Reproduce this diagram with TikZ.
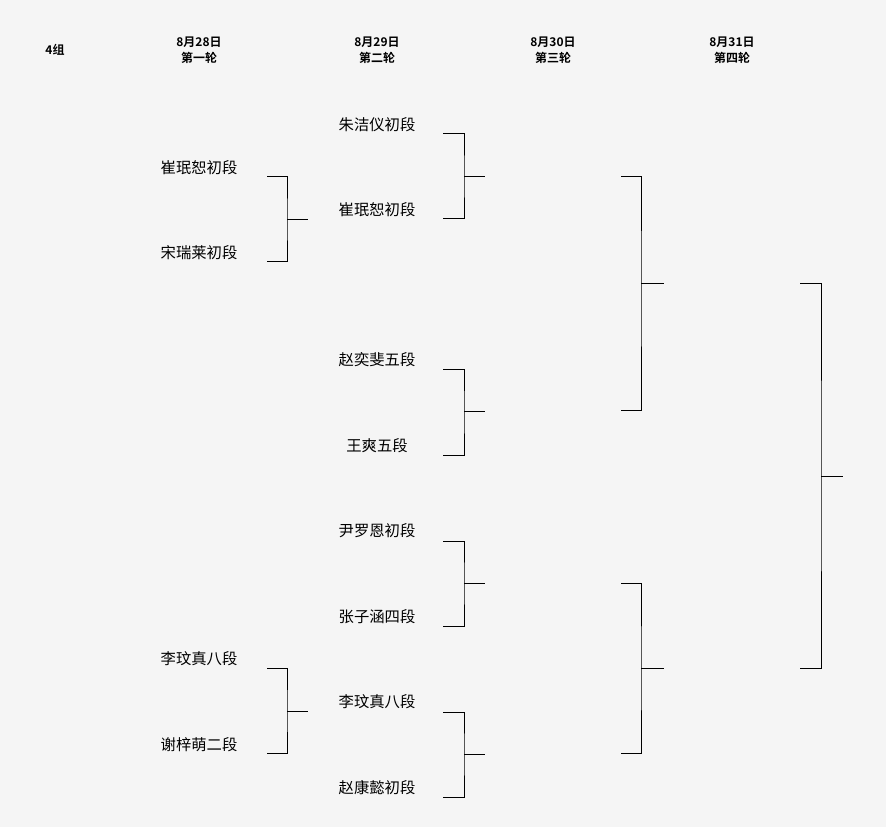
\documentclass[tikz,border=0pt]{standalone}
\usepackage{fontspec}
\newfontfamily\cjk{Noto Sans CJK SC}
\newfontfamily\cjkb{Noto Sans CJK SC Bold}
\begin{document}
\begin{tikzpicture}[x=0.75pt,y=-0.75pt,
  playername/.style={font=\cjk\fontsize{11.5}{13}\selectfont,inner sep=0pt},
  headtext/.style={font=\cjkb\fontsize{9}{12}\selectfont,inner sep=0pt,align=center},
  bracketline/.style={draw=black,line width=0.75pt}]
\fill[white!96!black] (0,0) rectangle (886,827);
\useasboundingbox (0,0) rectangle (886,827);
\node[headtext] (g) at (55,50) {4组};
\node[headtext] (h1) at (199,50) {8月28日\\第一轮};
\node[headtext] (h2) at (377,50) {8月29日\\第二轮};
\node[headtext] (h3) at (553,50) {8月30日\\第三轮};
\node[headtext] (h4) at (732,50) {8月31日\\第四轮};
\node[playername] (a1) at (199,168) {崔珉恕初段};
\node[playername] (a2) at (199,253) {宋瑞莱初段};
\node[playername] (a3) at (199,659) {李玟真八段};
\node[playername] (a4) at (199,745) {谢梓萌二段};
\node[playername] (b1) at (377,125) {朱洁仪初段};
\node[playername] (b2) at (377,210) {崔珉恕初段};
\node[playername] (b3) at (377,360) {赵奕斐五段};
\node[playername] (b4) at (377,446) {王爽五段};
\node[playername] (b5) at (377,531) {尹罗恩初段};
\node[playername] (b6) at (377,617) {张子涵四段};
\node[playername] (b7) at (377,702) {李玟真八段};
\node[playername] (b8) at (377,788) {赵康懿初段};
% x1 x2 x3 ytop ybot ymid name
\newcommand\brk[7]{%
  \coordinate (#7t) at (#1,#4); \coordinate (#7b) at (#1,#5);
  \coordinate (#7m) at (#2,#6); \coordinate (#7o) at (#3,#6);
  \draw[bracketline] (#7t) -| (#7m) |- (#7b); \draw[bracketline] (#7m) -- (#7o);}
\brk{267}{287}{308}{177}{262}{220}{r1a}
\brk{267}{287}{308}{668}{753}{711}{r1b}
\brk{443}{464}{485}{134}{219}{177}{r2a}
\brk{443}{464}{485}{370}{455}{412}{r2b}
\brk{443}{464}{485}{541}{626}{583}{r2c}
\brk{443}{464}{485}{712}{797}{754}{r2d}
\brk{621}{641}{664}{177}{411}{284}{r3a}
\brk{621}{641}{664}{583}{753}{668}{r3b}
\brk{800}{821}{843}{284}{668}{476}{r4}
\end{tikzpicture}
\end{document}
